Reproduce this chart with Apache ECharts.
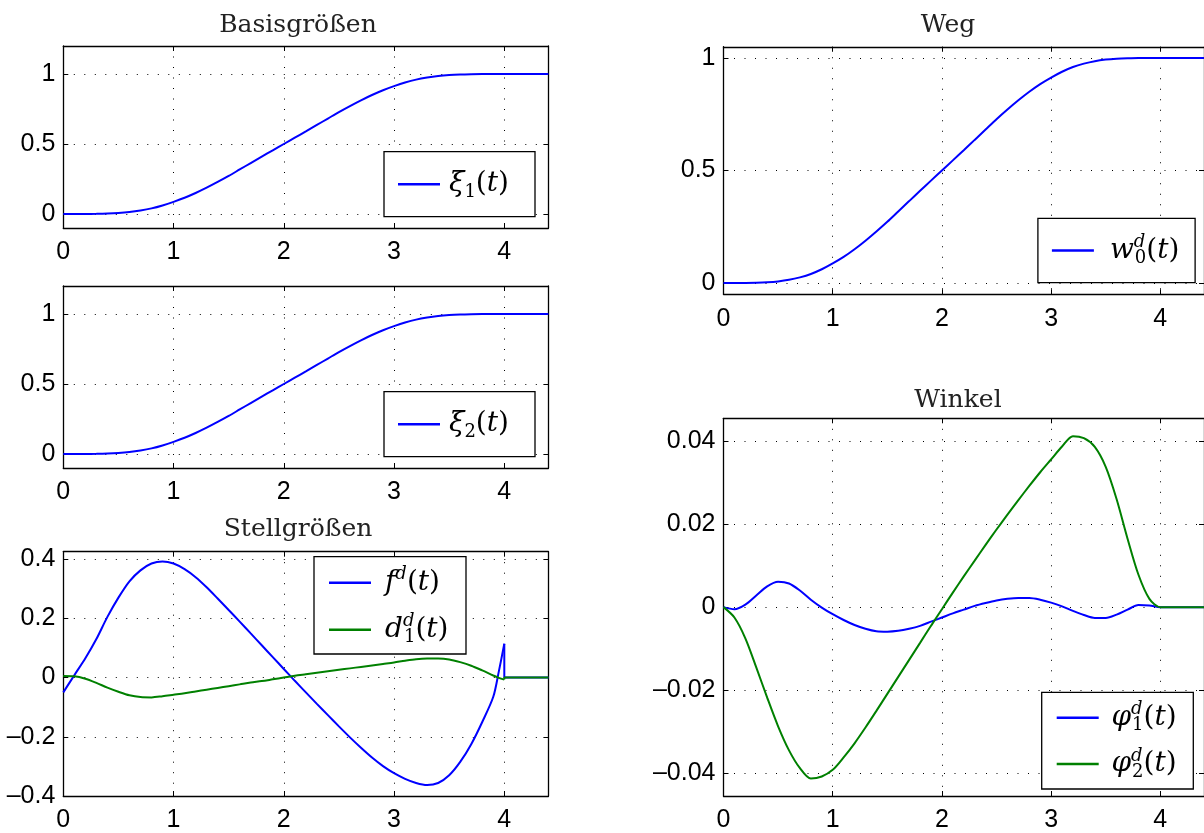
<!DOCTYPE html>
<html><head><meta charset="utf-8">
<script src="https://cdn.jsdelivr.net/npm/echarts@6/dist/echarts.min.js"></script>
<style>html,body{margin:0;padding:0;background:#fff}#c{width:1204px;height:833px}</style>
</head><body><div id="c"></div>
<script>
// time axis (s)
const t = [0,0.1,0.2,0.3,0.4,0.5,0.6,0.7,0.8,0.9,1.0,1.1,1.2,1.3,1.4,1.5,1.6,1.7,1.8,1.9,2.0,2.1,2.2,2.3,2.4,2.5,2.6,2.7,2.8,2.9,3.0,3.1,3.2,3.3,3.4,3.5,3.6,3.7,3.8,3.9,4.0,4.1,4.2,4.3,4.4];
const tStell = [0,0.1,0.2,0.3,0.4,0.5,0.6,0.7,0.8,0.9,1.0,1.1,1.2,1.3,1.4,1.5,1.6,1.7,1.8,1.9,2.0,2.1,2.2,2.3,2.4,2.5,2.6,2.7,2.8,2.9,3.0,3.1,3.2,3.3,3.4,3.5,3.6,3.7,3.8,3.9,3.95,4.0];
const tJump = [4.0,4.0,4.4];

// Basisgrößen
const xi1 = [0,0,0.0002,0.001,0.003,0.007,0.014,0.025,0.040,0.061,0.087,0.116,0.150,0.188,0.229,0.272,0.318,0.364,0.410,0.455,0.500,0.545,0.590,0.636,0.682,0.728,0.771,0.812,0.850,0.884,0.913,0.939,0.960,0.975,0.986,0.993,0.997,0.999,1,1,1,1,1,1,1];
const xi2 = [0,0,0.0002,0.001,0.003,0.007,0.014,0.025,0.040,0.061,0.087,0.116,0.150,0.188,0.229,0.272,0.318,0.364,0.410,0.455,0.500,0.545,0.590,0.636,0.682,0.728,0.771,0.812,0.850,0.884,0.913,0.939,0.960,0.975,0.986,0.993,0.997,0.999,1,1,1,1,1,1,1];
// Stellgrößen
const fd = [-0.05,0.008,0.065,0.13,0.205,0.27,0.325,0.362,0.385,0.392,0.385,0.366,0.339,0.305,0.267,0.228,0.189,0.149,0.109,0.069,0.029,-0.011,-0.05,-0.089,-0.127,-0.165,-0.202,-0.237,-0.27,-0.299,-0.323,-0.342,-0.356,-0.363,-0.356,-0.33,-0.285,-0.225,-0.15,-0.065,0.02,0.114];
const fdJump = [0.114,0,0];
const d1d = [0.005,0.004,-0.004,-0.018,-0.034,-0.048,-0.06,-0.066,-0.067,-0.063,-0.058,-0.053,-0.047,-0.041,-0.035,-0.029,-0.023,-0.017,-0.012,-0.006,0.0,0.006,0.011,0.016,0.021,0.026,0.031,0.036,0.041,0.046,0.051,0.057,0.062,0.064,0.064,0.061,0.052,0.04,0.024,0.007,-0.001,-0.007];
const d1dJump = [-0.007,0,0];
// Weg
const w0d = [0,0,0.0002,0.001,0.003,0.007,0.014,0.025,0.040,0.061,0.087,0.116,0.150,0.188,0.229,0.272,0.318,0.364,0.410,0.455,0.500,0.545,0.590,0.636,0.682,0.728,0.771,0.812,0.850,0.884,0.913,0.939,0.960,0.975,0.986,0.993,0.997,0.999,1,1,1,1,1,1,1];
// Winkel
const phi1 = [0,-0.0005,0.0006,0.0028,0.0050,0.0061,0.0057,0.0040,0.0018,-0.0001,-0.0017,-0.0031,-0.0043,-0.0052,-0.0058,-0.0059,-0.0057,-0.0052,-0.0045,-0.0035,-0.0025,-0.0015,-0.0006,0.0003,0.0010,0.0016,0.0020,0.0022,0.0022,0.0018,0.0011,0.0002,-0.0009,-0.0019,-0.0026,-0.0026,-0.0018,-0.0006,0.0005,0.0004,0,0,0,0,0];
const phi2 = [0,-0.0025,-0.0075,-0.0145,-0.0218,-0.0287,-0.0345,-0.0388,-0.0413,-0.0408,-0.0392,-0.0362,-0.0328,-0.0290,-0.0250,-0.0209,-0.0168,-0.0127,-0.0086,-0.0045,-0.0005,0.0035,0.0074,0.0112,0.0150,0.0187,0.0223,0.0258,0.0292,0.0325,0.0356,0.0387,0.0412,0.0407,0.0386,0.0338,0.0260,0.0165,0.0078,0.0020,0,0,0,0,0];

// tick labels
const xTicks = [0,1,2,3,4];
const yTicksBasis = [0,0.5,1];
const yTicksStell = [-0.4,-0.2,0,0.2,0.4];
const yTicksWeg = [0,0.5,1];
const yTicksWinkel = [-0.04,-0.02,0,0.02,0.04];

const titles = ['Basisgrößen','Stellgrößen','Weg','Winkel'];

const BLUE = '#0000ff', GREEN = '#008000';

const panels = [
  {left:63.3, top:46, width:485.1, height:182, ymin:-0.1, ymax:1.2, yt:yTicksBasis},
  {left:63.3, top:286, width:485.1, height:182, ymin:-0.1, ymax:1.2, yt:yTicksBasis},
  {left:63.3, top:551.7, width:485.1, height:245.6, ymin:-0.4, ymax:0.425, yt:yTicksStell},
  {left:723.5, top:46.75, width:483, height:247.5, ymin:-0.05, ymax:1.05, yt:yTicksWeg},
  {left:723.5, top:418.3, width:483, height:379, ymin:-0.0455, ymax:0.0455, yt:yTicksWinkel}
];

const fmt = v => String(+(+v).toFixed(4)).replace('-', '\u2013');
const labelFont = {fontFamily:'Liberation Sans', fontSize:25, color:'#000'};
const grid = [], xAxis = [], yAxis = [];
panels.forEach((p, i) => {
  grid.push({left:p.left, top:p.top, width:p.width, height:p.height, containLabel:false});
  const axLine = {show:true, onZero:false, lineStyle:{color:'#000', width:1.3}};
  const tick = (vals) => ({show:true, inside:true, length:5, customValues:vals, lineStyle:{color:'#000', width:1}});
  const dots = {show:true, lineStyle:{color:'#000', width:1, type:[1,9.5]}};
  xAxis.push({type:'value', gridIndex:i, position:'bottom', min:0, max:4.4,
    axisLine:axLine, axisTick:tick(xTicks), splitLine:dots,
    axisLabel:Object.assign({customValues:xTicks, formatter:fmt, margin:12}, labelFont)});
  xAxis.push({type:'value', gridIndex:i, position:'top', min:0, max:4.4,
    axisLine:axLine, axisTick:tick(xTicks), splitLine:{show:false}, axisLabel:{show:false}});
  yAxis.push({type:'value', gridIndex:i, position:'left', min:p.ymin, max:p.ymax,
    axisLine:axLine, axisTick:tick(p.yt), splitLine:dots,
    axisLabel:Object.assign({customValues:p.yt, formatter:fmt, margin:8}, labelFont)});
  yAxis.push({type:'value', gridIndex:i, position:'right', min:p.ymin, max:p.ymax,
    axisLine:axLine, axisTick:tick(p.yt), splitLine:{show:false}, axisLabel:{show:false}});
});

const pairs = (xs, ys) => xs.map((x, k) => [x, ys[k]]);
const mk = (name, gi, xs, ys, color, smooth) => ({
  name, type:'line', xAxisIndex:2*gi, yAxisIndex:2*gi, data:pairs(xs, ys),
  showSymbol:false, symbol:'none', smooth:smooth, color:color,
  lineStyle:{color:color, width:2}, animation:false, z:3
});
const series = [
  mk('xi1', 0, t, xi1, BLUE, 0.3),
  mk('xi2', 1, t, xi2, BLUE, 0.3),
  mk('f', 2, tStell, fd, BLUE, 0.3),
  mk('f', 2, tJump, fdJump, BLUE, false),
  mk('d1', 2, tStell, d1d, GREEN, 0.3),
  mk('d1', 2, tJump, d1dJump, GREEN, false),
  mk('w0', 3, t, w0d, BLUE, 0.3),
  mk('phi1', 4, t, phi1, BLUE, 0.3),
  mk('phi2', 4, t, phi2, GREEN, 0.3)
];

const rich = {
  v:{fontFamily:'DejaVu Serif', fontStyle:'italic', fontSize:28, lineHeight:32, verticalAlign:'middle', color:'#000'},
  n:{fontFamily:'DejaVu Serif', fontSize:28, lineHeight:32, verticalAlign:'middle', color:'#000'},
  sub:{fontFamily:'DejaVu Serif', fontSize:18, lineHeight:12, padding:[16,0,0,0], verticalAlign:'middle', color:'#000'},
  sup:{fontFamily:'DejaVu Serif', fontStyle:'italic', fontSize:18, lineHeight:12, padding:[0,0,16,0], verticalAlign:'middle', color:'#000'},
  supS:{fontFamily:'DejaVu Serif', fontStyle:'italic', fontSize:18, lineHeight:12, padding:[0,0,16,0], verticalAlign:'middle', width:1, align:'left', color:'#000'}
};
const legendText = {
  xi1:'{v|ξ}{sub|1}{n|(}{v|t}{n|)}',
  xi2:'{v|ξ}{sub|2}{n|(}{v|t}{n|)}',
  f:'{v|f}{sup|d}{n|(}{v|t}{n|)}',
  d1:'{v|d}{supS|d}{sub|1}{n|(}{v|t}{n|)}',
  w0:'{v|w}{supS|d}{sub|0}{n|(}{v|t}{n|)}',
  phi1:'{v|φ}{supS|d}{sub|1}{n|(}{v|t}{n|)}',
  phi2:'{v|φ}{supS|d}{sub|2}{n|(}{v|t}{n|)}'
};
const mkLegend = (names, left, top, padding, gap, textPad) => ({
  data:names, orient:'vertical', left:left, top:top, padding:padding, itemGap:gap,
  icon:'rect', itemWidth:42, itemHeight:2.5, selectedMode:false,
  backgroundColor:'#fff', borderColor:'#000', borderWidth:1.3, borderRadius:0,
  itemStyle:{borderWidth:0},
  formatter: n => legendText[n],
  textStyle:{width:68, padding:[0,0,0,textPad], lineHeight:32, rich:rich}
});
const legend = [
  mkLegend(['xi1'], 384, 151.7, [15.5,18,15.5,14], 10, 4),
  mkLegend(['xi2'], 384, 391.7, [15.5,18,15.5,14], 10, 4),
  mkLegend(['f','d1'], 314, 556.7, [9,13,7.3,15], 13, 9),
  mkLegend(['w0'], 1037.9, 218.3, [15.2,15.7,15.2,14], 10, 11),
  mkLegend(['phi1','phi2'], 1041.7, 692.3, [8.4,13.9,8,15], 12.3, 7.7)
];

const titleStyle = (text, x, y) => ({type:'text', x:x, y:y, z:10, silent:true,
  style:{text:text, font:'25px "DejaVu Serif"', fill:'#222', align:'center', textAlign:'center', verticalAlign:'middle', textVerticalAlign:'middle'}});
const graphic = [
  titleStyle(titles[0], 298, 25.7),
  titleStyle(titles[1], 298, 529.4),
  titleStyle(titles[2], 948, 25.7),
  titleStyle(titles[3], 958, 400.7)
];

const chart = echarts.init(document.getElementById('c'), null, {renderer:'canvas'});
chart.setOption({backgroundColor:'#fff', animation:false, grid, xAxis, yAxis, series, legend, graphic});
</script></body></html>
